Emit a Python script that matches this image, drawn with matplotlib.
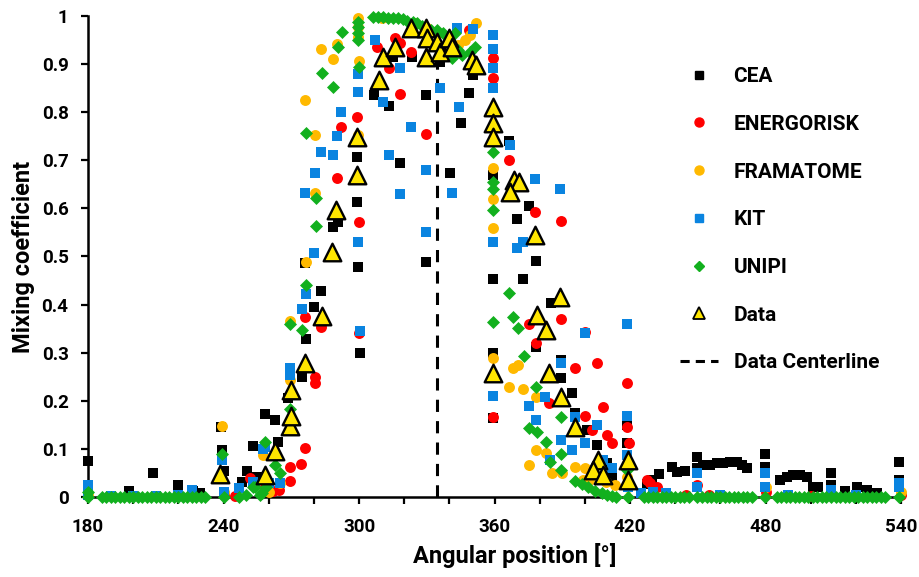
import matplotlib
matplotlib.use('Agg')
import matplotlib.pyplot as plt
from matplotlib.lines import Line2D
from matplotlib.ticker import MultipleLocator, FuncFormatter

# ---- data (angular position [deg], mixing coefficient) ----
cea_pos = [180, 180, 198, 209, 220, 226.5, 229.6, 239.3, 239, 240, 248, 250.4, 253, 255, 258.4, 263,
           264.3, 268.6, 274.8, 276.6, 276.3, 280, 283, 288.5, 290.7, 299, 299, 299.6, 300.5, 306.6,
           313.3, 315, 318, 323.5, 329.7, 329.7, 335.9, 340.5, 345, 348.5, 350.5, 359.3, 359.3, 359.3,
           359.3, 366.4, 370, 372.6, 375.3, 378.4, 378.4, 385, 389.5, 389.5, 394.3, 395.6, 401, 405.4,
           410, 412, 418.7, 418.7, 427.5, 429.8, 433, 438.6, 441, 444.4, 449.7, 449.7, 452.3, 455.4,
           458.5, 461.2, 464.3, 467.4, 469.6, 471.8, 479.8, 479.8, 486.4, 489.5, 492.2, 495.3, 498.4,
           501.2, 503.4, 509, 509, 515.2, 520.6, 525, 529.5, 539.3, 539.3]
cea_val = [0.075, 0.008, 0.012, 0.05, 0.025, 0.012, 0.008, 0.098, 0.146, 0.055, 0.031, 0.055, 0.106, 0.041,
           0.172, 0.16, 0.114, 0.206, 0.25, 0.328, 0.486, 0.395, 0.428, 0.561, 0.572, 0.613, 0.707, 0.478,
           0.3, 0.836, 0.813, 0.915, 0.694, 0.915, 0.836, 0.489, 0.904, 0.673, 0.778, 0.84, 0.878, 0.67,
           0.453, 0.3, 0.164, 0.74, 0.578, 0.453, 0.605, 0.49, 0.312, 0.403, 0.285, 0.247, 0.216, 0.175,
           0.14, 0.108, 0.07, 0.04, 0.15, 0.112, 0.027, 0.035, 0.048, 0.062, 0.052, 0.054, 0.083, 0.06,
           0.066, 0.066, 0.071, 0.071, 0.073, 0.073, 0.066, 0.06, 0.089, 0.062, 0.035, 0.042, 0.046,
           0.046, 0.042, 0.021, 0.021, 0.05, 0.025, 0.012, 0.021, 0.015, 0.008, 0.073, 0.035]

energorisk_pos = [240, 245, 251.7, 253, 258.4, 262, 264.6, 269.5, 269.5, 274.4, 276, 280.5, 280.5, 276,
                  283, 300, 290.3, 292, 299, 300, 308, 313.3, 316, 318, 318, 323, 329.7, 348.5, 359.3,
                  359.3, 366.4, 378, 389.5, 389.5, 375.3, 378.4, 400, 395.6, 405.4, 418.7, 408, 400, 403,
                  410, 412, 419.6, 418.7, 384, 359.3, 427.5, 429, 432, 449.7, 436, 445, 455, 460, 480,
                  500, 540]
energorisk_val = [0.005, 0.003, 0.04, 0.025, 0.02, 0.012, 0.015, 0.033, 0.062, 0.069, 0.102, 0.237, 0.25,
                  0.374, 0.353, 0.341, 0.663, 0.77, 0.79, 0.572, 0.936, 0.892, 0.954, 0.838, 0.944, 0.925,
                  0.754, 0.97, 0.912, 0.871, 0.7, 0.593, 0.574, 0.37, 0.36, 0.32, 0.343, 0.268, 0.279,
                  0.237, 0.187, 0.168, 0.139, 0.129, 0.112, 0.112, 0.146, 0.195, 0.166, 0.035, 0.03, 0.021,
                  0.025, 0.005, 0.004, 0.005, 0.004, 0.01, 0.003, 0.005]

framatome_pos = [180, 239.3, 240, 257.5, 260, 265, 269.5, 269.5, 276.5, 276, 280.5, 280.5, 283, 288.5,
                 290.3, 299.6, 299.6, 299.6, 300, 299.6, 310, 325, 330, 335, 340, 344, 347, 349, 352,
                 359.3, 359.3, 359.3, 359.3, 368, 370.4, 366.4, 372.6, 378.4, 375.3, 378.4, 383, 385.5,
                 390, 395.6, 400, 399, 402, 403.6, 409.4, 413.4, 418.7, 419, 430, 480, 540]
framatome_val = [0.005, 0.148, 0.01, 0.087, 0.01, 0.03, 0.243, 0.366, 0.489, 0.825, 0.753, 0.632, 0.931,
                 0.91, 0.942, 0.996, 0.977, 0.956, 0.906, 0.753, 0.995, 0.985, 0.975, 0.965, 0.955, 0.94,
                 0.95, 0.96, 0.985, 0.684, 0.62, 0.559, 0.289, 0.268, 0.274, 0.228, 0.224, 0.208, 0.067,
                 0.098, 0.091, 0.05, 0.05, 0.062, 0.06, 0.035, 0.035, 0.05, 0.031, 0.025, 0.042, 0.02,
                 0.005, 0.02, 0.01]

kit_pos = [180, 180, 190, 200, 210, 220, 226, 239.3, 240, 247, 253, 257.5, 258.4, 260, 265, 269.5, 269.5,
           274.8, 276.5, 280, 276, 280.5, 283, 288.5, 290.3, 292, 299.6, 299.6, 299.6, 300.5, 307, 310.6,
           313.3, 318, 318, 323, 329.7, 329.7, 335.9, 341, 344.5, 343.4, 350.5, 359.3, 359.3, 359.3,
           359.3, 359.3, 359.3, 366.9, 370, 372.6, 378, 389, 418.7, 400, 389.5, 382.4, 375.3, 378.4,
           389.5, 394.3, 400, 405.4, 395.6, 408, 412, 418.7, 418.7, 419, 384.6, 425, 430, 436, 449.7,
           449.7, 460, 479.8, 479.8, 490, 509, 520, 539.3, 539.3]
kit_val = [0.025, 0.005, 0.003, 0.003, 0.003, 0.005, 0.014, 0.077, 0.01, 0.019, 0.031, 0.1, 0.104, 0.029,
           0.029, 0.268, 0.254, 0.39, 0.422, 0.507, 0.632, 0.674, 0.717, 0.711, 0.75, 0.8, 0.842, 0.879,
           0.53, 0.346, 0.95, 0.821, 0.711, 0.892, 0.63, 0.769, 0.68, 0.551, 0.851, 0.632, 0.81, 0.975,
           0.973, 0.961, 0.931, 0.892, 0.85, 0.53, 0.21, 0.732, 0.518, 0.53, 0.661, 0.64, 0.36, 0.341,
           0.279, 0.208, 0.189, 0.16, 0.118, 0.098, 0.112, 0.15, 0.166, 0.077, 0.06, 0.168, 0.087, 0.02,
           0.077, 0.008, 0.01, 0.008, 0.05, 0.02, 0.005, 0.05, 0.02, 0.005, 0.015, 0.005, 0.021, 0.03]

unipi_pos = [180, 180, 186, 188, 190, 192, 194, 196, 198, 200, 202, 204, 206, 208, 210, 212, 214, 216, 218,
             220, 222, 224, 226, 228, 230, 232, 240, 239.3, 247, 250, 253, 254, 256, 257, 258.4, 259, 263,
             265, 269.5, 269.5, 274.8, 276.6, 281, 281, 276.6, 283.6, 288.5, 290.7, 292.5, 300, 299.6,
             299.6, 299.6, 299.6, 306.2, 308.4, 310.6, 312.8, 315, 317.3, 319.5, 321.3, 323.9, 325.7, 328,
             330, 332, 334.5, 337, 339, 342.5, 344, 345.6, 349, 351.4, 341, 359.3, 359.3, 359.3, 359.3,
             359.3, 366.4, 368, 370.4, 373, 378.4, 375.3, 378.8, 382.8, 389.5, 389.5, 384.6, 389.5, 395.6,
             398.8, 401.4, 404.5, 407.6, 409.8, 412, 414, 418.7, 419, 426, 428, 430, 432, 434, 436, 438,
             440, 442, 444, 446, 449.7, 452, 454, 456, 458, 460, 462, 464, 466, 468, 470, 472, 474, 479.8,
             485, 487, 489, 491, 493, 495, 497, 499, 501, 503, 505, 507, 509, 511, 513, 515, 517, 519, 521,
             523, 525, 527, 529, 531, 533, 539.3]
unipi_val = [0.01, 0.0, 0, 0, 0, 0, 0, 0, 0, 0, 0, 0, 0, 0, 0, 0, 0, 0, 0, 0, 0, 0, 0, 0, 0, 0, 0.0, 0.09,
             0.0, 0.005, 0.02, 0.021, 0.005, 0.008, 0.114, 0.02, 0.066, 0.05, 0.183, 0.36, 0.348, 0.44,
             0.621, 0.563, 0.757, 0.881, 0.852, 0.936, 0.967, 0.894, 0.988, 0.977, 0.965, 0.95, 0.998,
             0.998, 0.997, 0.996, 0.996, 0.995, 0.993, 0.99, 0.988, 0.985, 0.98, 0.975, 0.97, 0.97, 0.965,
             0.956, 0.965, 0.929, 0.919, 0.925, 0.936, 0.913, 0.717, 0.655, 0.64, 0.597, 0.364, 0.424,
             0.375, 0.351, 0.294, 0.229, 0.143, 0.135, 0.114, 0.166, 0.09, 0.073, 0.056, 0.033, 0.027,
             0.02, 0.013, 0.008, 0.004, 0.002, 0.001, 0.056, 0.0, 0, 0, 0, 0, 0, 0, 0, 0, 0, 0, 0, 0, 0,
             0, 0, 0, 0, 0, 0, 0, 0, 0, 0, 0, 0, 0, 0, 0, 0, 0, 0, 0, 0, 0, 0, 0, 0, 0, 0, 0, 0, 0, 0, 0,
             0, 0, 0, 0, 0, 0, 0]

data_pos = [238.5, 258.5, 263, 269.5, 270, 270, 276, 283.6, 288, 290, 299, 299, 309, 310.6, 316, 323,
            329.7, 330, 329.7, 334.5, 336, 339.8, 341, 350, 351.8, 359.3, 359.3, 359.3, 359.3, 368.6,
            370.9, 367, 378, 389, 378.8, 383, 384, 389.5, 395.6, 405.8, 403.6, 408, 419, 419]
data_val = [0.047, 0.046, 0.096, 0.148, 0.168, 0.222, 0.278, 0.376, 0.51, 0.597, 0.67, 0.748, 0.867,
            0.915, 0.935, 0.975, 0.975, 0.954, 0.915, 0.946, 0.925, 0.954, 0.936, 0.908, 0.898, 0.81,
            0.778, 0.748, 0.258, 0.66, 0.655, 0.634, 0.545, 0.416, 0.378, 0.347, 0.258, 0.208, 0.146,
            0.077, 0.056, 0.046, 0.077, 0.035]

centerline_pos = 334.6

# ---- plot ----
plt.rcParams['font.family'] = ['Roboto', 'DejaVu Sans']
plt.rcParams['font.weight'] = 'bold'

fig = plt.figure(figsize=(9.19, 5.77), dpi=100)
ax = fig.add_axes([88 / 919, 80 / 577, 813 / 919, 481 / 577])

ax.plot([centerline_pos, centerline_pos], [0, 0.93], color='black', linestyle=(0, (4, 3)),
        linewidth=2.2, zorder=1)

ax.scatter(cea_pos, cea_val, marker='s', s=56, color='black', linewidths=0, clip_on=False, zorder=2)
ax.scatter(energorisk_pos, energorisk_val, marker='o', s=62, color='#ff0000', linewidths=0, clip_on=False, zorder=3)
ax.scatter(framatome_pos, framatome_val, marker='o', s=62, color='#ffb900', linewidths=0, clip_on=False, zorder=4)
ax.scatter(kit_pos, kit_val, marker='s', s=56, color='#0a84e0', linewidths=0, clip_on=False, zorder=5)
ax.scatter(unipi_pos, unipi_val, marker='D', s=44, color='#12b01e', linewidths=0, clip_on=False, zorder=6)
ax.scatter(data_pos, data_val, marker='^', s=160, color='#ffe600', edgecolors='black', linewidths=1.7,
           clip_on=False, zorder=7)

ax.set_xlim(180, 540)
ax.set_ylim(0, 1)
ax.xaxis.set_major_locator(MultipleLocator(60))
ax.xaxis.set_minor_locator(MultipleLocator(20))
ax.yaxis.set_major_locator(MultipleLocator(0.1))
ax.yaxis.set_major_formatter(FuncFormatter(lambda v, p: f'{v:g}'))

# only left and bottom axis lines
ax.spines['top'].set_visible(False)
ax.spines['right'].set_visible(False)
ax.spines['left'].set_linewidth(1.8)
ax.spines['bottom'].set_linewidth(1.8)
ax.tick_params(axis='both', which='both', direction='out', width=1.6, length=5, labelsize=13.5)
ax.tick_params(axis='x', pad=10)
ax.tick_params(axis='y', pad=9)

ax.set_xlabel('Angular position [°]', fontsize=17, fontweight='bold', labelpad=5)
ax.set_ylabel('Mixing coefficient', fontsize=17, fontweight='bold', labelpad=5)
# the x title sits a bit right of the axis centre in the original
ax.xaxis.set_label_coords(0.525, -0.095)

handles = [
    Line2D([], [], marker='s', color='black', linestyle='none', markersize=6),
    Line2D([], [], marker='o', color='#ff0000', linestyle='none', markersize=6.5),
    Line2D([], [], marker='o', color='#ffb900', linestyle='none', markersize=6.5),
    Line2D([], [], marker='s', color='#0a84e0', linestyle='none', markersize=6),
    Line2D([], [], marker='D', color='#12b01e', linestyle='none', markersize=5.5),
    Line2D([], [], marker='^', markerfacecolor='#ffe600', markeredgecolor='black', markeredgewidth=1.3,
           linestyle='none', markersize=8),
    Line2D([], [], color='black', linestyle=(0, (3, 2)), linewidth=2.2),
]
labels = ['CEA', 'ENERGORISK', 'FRAMATOME', 'KIT', 'UNIPI', 'Data', 'Data Centerline']
fig.legend(handles, labels, loc='upper left', bbox_to_anchor=(680 / 919, 1 - 67 / 577),
           frameon=False, fontsize=15, handlelength=1.8, handletextpad=0.77, labelspacing=1.38,
           borderpad=0, borderaxespad=0)

fig.savefig('out.png', dpi=100)
